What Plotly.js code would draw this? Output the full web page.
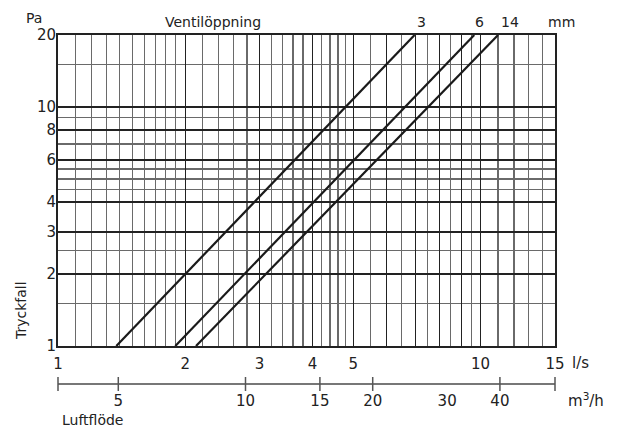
<!DOCTYPE html>
<html>
<head>
<meta charset="utf-8">
<script src="https://cdn.plot.ly/plotly-3.0.1.min.js"></script>
<style>html,body{margin:0;padding:0;background:#fff;}#chart{width:624px;height:428px;}</style>
</head>
<body>
<div id="chart"></div>
<script>
// Pressure drop (Pa) endpoints for each valve opening line
var pressure = [1, 20];
// Air flow (l/s) read at the endpoints of each line
var flow_3mm = [1.374, 6.98];
var flow_6mm = [1.895, 9.66];
var flow_14mm = [2.121, 11.0];
var openings = ['3', '6', '14'];

// Axis tick values
var xMajorTicks = [1, 2, 3, 4, 5, 6, 7, 8, 9, 10, 15];
var xMajorText = ['1', '2', '3', '4', '5', '', '', '', '', '10', '15'];
var xMinorTicks = [1.1, 1.2, 1.3, 1.4, 1.5, 1.6, 1.7, 1.8, 1.9, 2.2, 2.4, 2.6, 2.8, 3.2, 3.4, 3.6, 3.8,
  4.2, 4.4, 4.6, 4.8, 5.5, 6.5, 7.5, 8.5, 9.5, 11, 12, 13, 14];
var yMajorTicks = [1, 2, 3, 4, 6, 8, 10, 20];
var yMajorText = ['1', '2', '3', '4', '6', '8', '10', '20'];
var yMinorTicks = [1.5, 2.5, 4.5, 5, 5.5, 7, 9, 15];

// Secondary flow scale (m3/h)
var m3hRange = [3.6, 54];
var m3hTicks = [3.6, 5, 10, 15, 20, 40, 54];
var m3hLabels = [5, 10, 15, 20, 30, 40];

var font = 'DejaVu Sans, Verdana, sans-serif';
var ink = '#222';

function lineTrace(xs, name) {
  return {x: xs, y: pressure, mode: 'lines', name: name, showlegend: false,
    line: {color: '#1a1a1a', width: 2.2}, hoverinfo: 'skip'};
}

var traces = [
  lineTrace(flow_3mm, openings[0]),
  lineTrace(flow_6mm, openings[1]),
  lineTrace(flow_14mm, openings[2]),
  {x: m3hRange, y: [0, 0], xaxis: 'x2', yaxis: 'y2', mode: 'lines', showlegend: false,
    line: {color: '#777', width: 2}, hoverinfo: 'skip', cliponaxis: false},
  {x: m3hTicks, y: m3hTicks.map(function(){return 0;}), xaxis: 'x2', yaxis: 'y2', mode: 'markers',
    showlegend: false, cliponaxis: false, hoverinfo: 'skip',
    marker: {symbol: 'line-ns', size: 10, line: {color: '#555', width: 1.5}}}
];

function ann(text, x, y, size, extra) {
  var a = {text: text, xref: 'paper', yref: 'paper', x: x, y: y, xanchor: 'center', yanchor: 'middle',
    showarrow: false, font: {size: size, family: font, color: ink}};
  if (extra) { for (var k in extra) a[k] = extra[k]; }
  return a;
}

var layout = {
  width: 624, height: 428,
  margin: {l: 58, r: 69, t: 35, b: 38},
  paper_bgcolor: '#fff', plot_bgcolor: '#fff',
  font: {family: font, size: 15, color: ink},
  showlegend: false,
  xaxis: {
    type: 'log', range: [0, Math.log10(15)], domain: [0, 1], anchor: 'y',
    tickmode: 'array', tickvals: xMajorTicks, ticktext: xMajorText, ticks: '',
    ticklabelstandoff: 3,
    showgrid: true, gridcolor: '#222', gridwidth: 1.2,
    minor: {tickmode: 'array', tickvals: xMinorTicks, showgrid: true, gridcolor: '#6a6a6a', gridwidth: 1.2, ticks: ''},
    showline: true, linecolor: '#222', linewidth: 2, mirror: true,
    tickfont: {size: 15, family: font, color: ink}, zeroline: false, fixedrange: true
  },
  yaxis: {
    type: 'log', range: [0, Math.log10(20)], domain: [0.124, 1], anchor: 'x',
    tickmode: 'array', tickvals: yMajorTicks, ticktext: yMajorText, ticks: '',
    ticklabelstandoff: -3,
    showgrid: true, gridcolor: '#222', gridwidth: 1.3,
    minor: {tickmode: 'array', tickvals: yMinorTicks, showgrid: true, gridcolor: '#6a6a6a', gridwidth: 1.2, ticks: ''},
    showline: true, linecolor: '#222', linewidth: 2, mirror: true,
    tickfont: {size: 15, family: font, color: ink}, zeroline: false, fixedrange: true
  },
  xaxis2: {
    type: 'log', range: [Math.log10(m3hRange[0]), Math.log10(m3hRange[1])], domain: [0, 1], anchor: 'y2',
    tickmode: 'array', tickvals: m3hLabels, ticktext: m3hLabels.map(String), ticks: '',
    showgrid: false, showline: false, zeroline: false,
    tickfont: {size: 15, family: font, color: ink}, fixedrange: true
  },
  yaxis2: {domain: [0, 0.034], range: [-1, 1], visible: false, fixedrange: true},
  annotations: [
    ann('Pa', -0.048, 1.048, 14),
    ann('Ventilöppning', 0.312, 1.037, 14),
    ann(openings[0], 0.732, 1.037, 14),
    ann(openings[1], 0.849, 1.037, 14),
    ann(openings[2], 0.909, 1.037, 14),
    ann('mm', 1.014, 1.037, 14),
    ann('l/s', 1.052, 0.076, 15),
    ann('m<sup>3</sup>/h', 1.062, -0.028, 15),
    ann('Luftflöde', 0.004, -0.085, 14, {xanchor: 'left'}),
    ann('Tryckfall', -0.0744, 0.2225, 14, {textangle: -90})
  ]
};

Plotly.newPlot('chart', traces, layout, {displayModeBar: false, staticPlot: true});
</script>
</body>
</html>
